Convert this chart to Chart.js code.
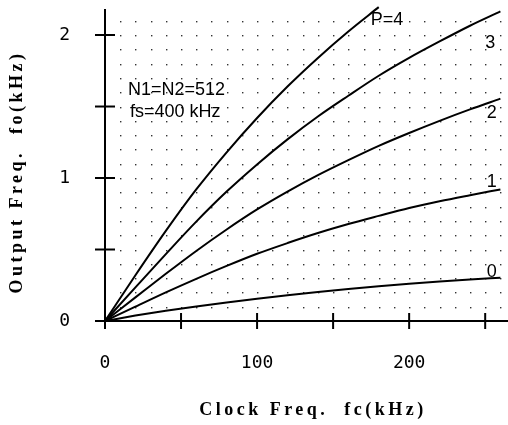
<!DOCTYPE html>
<html><head><meta charset="utf-8">
<script src="https://cdn.jsdelivr.net/npm/chart.js@4"></script>
<style>html,body{margin:0;padding:0;background:#fff;}canvas{display:block;}</style>
</head><body>
<canvas id="c" width="508" height="425"></canvas>
<script>
// ---- data ----
const fcValues = [0, 20, 40, 60, 80, 100, 120, 140, 160, 180, 200, 220, 240, 260];
const fcValuesP4 = [0, 20, 40, 60, 80, 100, 120, 140, 160, 180];
const foP0 = [0, 0.038, 0.072, 0.102, 0.130, 0.156, 0.180, 0.202, 0.223, 0.243, 0.261, 0.277, 0.291, 0.303];
const foP1 = [0, 0.10, 0.20, 0.295, 0.385, 0.47, 0.545, 0.615, 0.678, 0.735, 0.79, 0.838, 0.88, 0.92];
const foP2 = [0, 0.165, 0.33, 0.49, 0.64, 0.78, 0.905, 1.02, 1.125, 1.225, 1.315, 1.40, 1.48, 1.555];
const foP3 = [0, 0.235, 0.468, 0.695, 0.905, 1.095, 1.27, 1.43, 1.575, 1.715, 1.84, 1.955, 2.065, 2.165];
const foP4 = [0, 0.32, 0.63, 0.92, 1.18, 1.42, 1.64, 1.84, 2.025, 2.195];
const xTickLabels = [0, 100, 200];
const xTickMarks = [0, 50, 100, 150, 200, 250];
const yTickLabels = [0, 1, 2];
const yTickMarks = [0, 0.5, 1, 1.5, 2];
const xTitle = 'Clock Freq.  fc(kHz)';
const yTitle = 'Output Freq.  fo(kHz)';
const noteLines = ['N1=N2=512', 'fs=400 kHz'];
const curveLabels = ['0', '1', '2', '3', 'P=4'];

function pts(xs, ys) { return xs.map((x, i) => ({x: x, y: ys[i]})); }

const lineStyle = {borderColor: '#000', borderWidth: 2, pointRadius: 0, fill: false, cubicInterpolationMode: 'monotone', clip: false};

const decor = {
  id: 'decor',
  beforeDatasetsDraw(chart) {
    const ctx = chart.ctx, xs = chart.scales.x, ys = chart.scales.y;
    ctx.save();
    // dotted grid
    ctx.fillStyle = '#333';
    for (let i = 1; i <= 26; i++) {
      for (let j = 1; j <= 21; j++) {
        const px = Math.round(xs.getPixelForValue(i * 10));
        const py = Math.round(ys.getPixelForValue(j / 10));
        ctx.fillRect(px, py, 1.4, 1.4);
      }
    }
    // crossing tick marks
    ctx.strokeStyle = '#000';
    ctx.lineWidth = 2;
    const y0 = ys.getPixelForValue(0), x0 = xs.getPixelForValue(0);
    xTickMarks.forEach(v => {
      const px = xs.getPixelForValue(v);
      ctx.beginPath(); ctx.moveTo(px, y0 - 8); ctx.lineTo(px, y0 + 8); ctx.stroke();
    });
    yTickMarks.forEach(v => {
      const py = ys.getPixelForValue(v);
      ctx.beginPath(); ctx.moveTo(x0 - 10, py); ctx.lineTo(x0 + 10, py); ctx.stroke();
    });
    ctx.restore();
  },
  afterDraw(chart) {
    const ctx = chart.ctx, xs = chart.scales.x, ys = chart.scales.y;
    const X = v => xs.getPixelForValue(v), Y = v => ys.getPixelForValue(v);
    ctx.save();
    ctx.fillStyle = '#000';
    ctx.font = '18px "Liberation Sans", Arial, sans-serif';
    ctx.textAlign = 'left';
    ctx.textBaseline = 'alphabetic';
    ctx.fillText(noteLines[0], X(15.1), Y(1.58));
    ctx.fillText(noteLines[1], X(16.4), Y(1.427));
    // curve labels
    const lp = [[251, 0.308], [251, 0.937], [251, 1.42], [250, 1.909], [174.8, 2.07]];
    curveLabels.forEach((t, i) => ctx.fillText(t, X(lp[i][0]), Y(lp[i][1])));
    // axis titles
    ctx.font = 'bold 18px "Liberation Serif", "Times New Roman", serif';
    try { ctx.letterSpacing = '3.5px'; } catch (e) {}
    ctx.textAlign = 'center';
    ctx.textBaseline = 'middle';
    ctx.fillText(xTitle, 313, 410);
    ctx.translate(17, 172);
    ctx.rotate(-Math.PI / 2);
    ctx.fillText(yTitle, 0, 0);
    ctx.restore();
  }
};

new Chart(document.getElementById('c'), {
  type: 'line',
  data: {
    datasets: [
      Object.assign({label: 'p=0', data: pts(fcValues, foP0)}, lineStyle),
      Object.assign({label: 'p=1', data: pts(fcValues, foP1)}, lineStyle),
      Object.assign({label: 'p=2', data: pts(fcValues, foP2)}, lineStyle),
      Object.assign({label: 'p=3', data: pts(fcValues, foP3)}, lineStyle),
      Object.assign({label: 'p=4', data: pts(fcValuesP4, foP4)}, lineStyle)
    ]
  },
  options: {
    responsive: false,
    animation: false,
    devicePixelRatio: 1,
    layout: {padding: {top: 10, left: 0, right: 0, bottom: 0}},
    plugins: {legend: {display: false}, tooltip: {enabled: false}, title: {display: false}},
    scales: {
      x: {
        type: 'linear', min: 0, max: 265,
        afterFit(s) { s.height = 104; s.paddingLeft = 0; s.paddingRight = 0; },
        afterBuildTicks(s) { s.ticks = xTickLabels.map(v => ({value: v})); },
        grid: {display: false, drawTicks: false},
        border: {display: true, color: '#000', width: 2},
        ticks: {padding: 32, maxRotation: 0, autoSkip: false, color: '#000',
          font: {family: '"DejaVu Sans Mono", monospace', size: 18}}
      },
      y: {
        type: 'linear', min: 0, max: 2.175,
        afterFit(s) { s.width = 105; s.paddingTop = 0; s.paddingBottom = 0; },
        afterBuildTicks(s) { s.ticks = yTickLabels.map(v => ({value: v})); },
        grid: {display: false, drawTicks: false},
        border: {display: true, color: '#000', width: 2},
        ticks: {padding: 35, color: '#000',
          font: {family: '"DejaVu Sans Mono", monospace', size: 18}}
      }
    }
  },
  plugins: [decor]
});
</script>
</body></html>
